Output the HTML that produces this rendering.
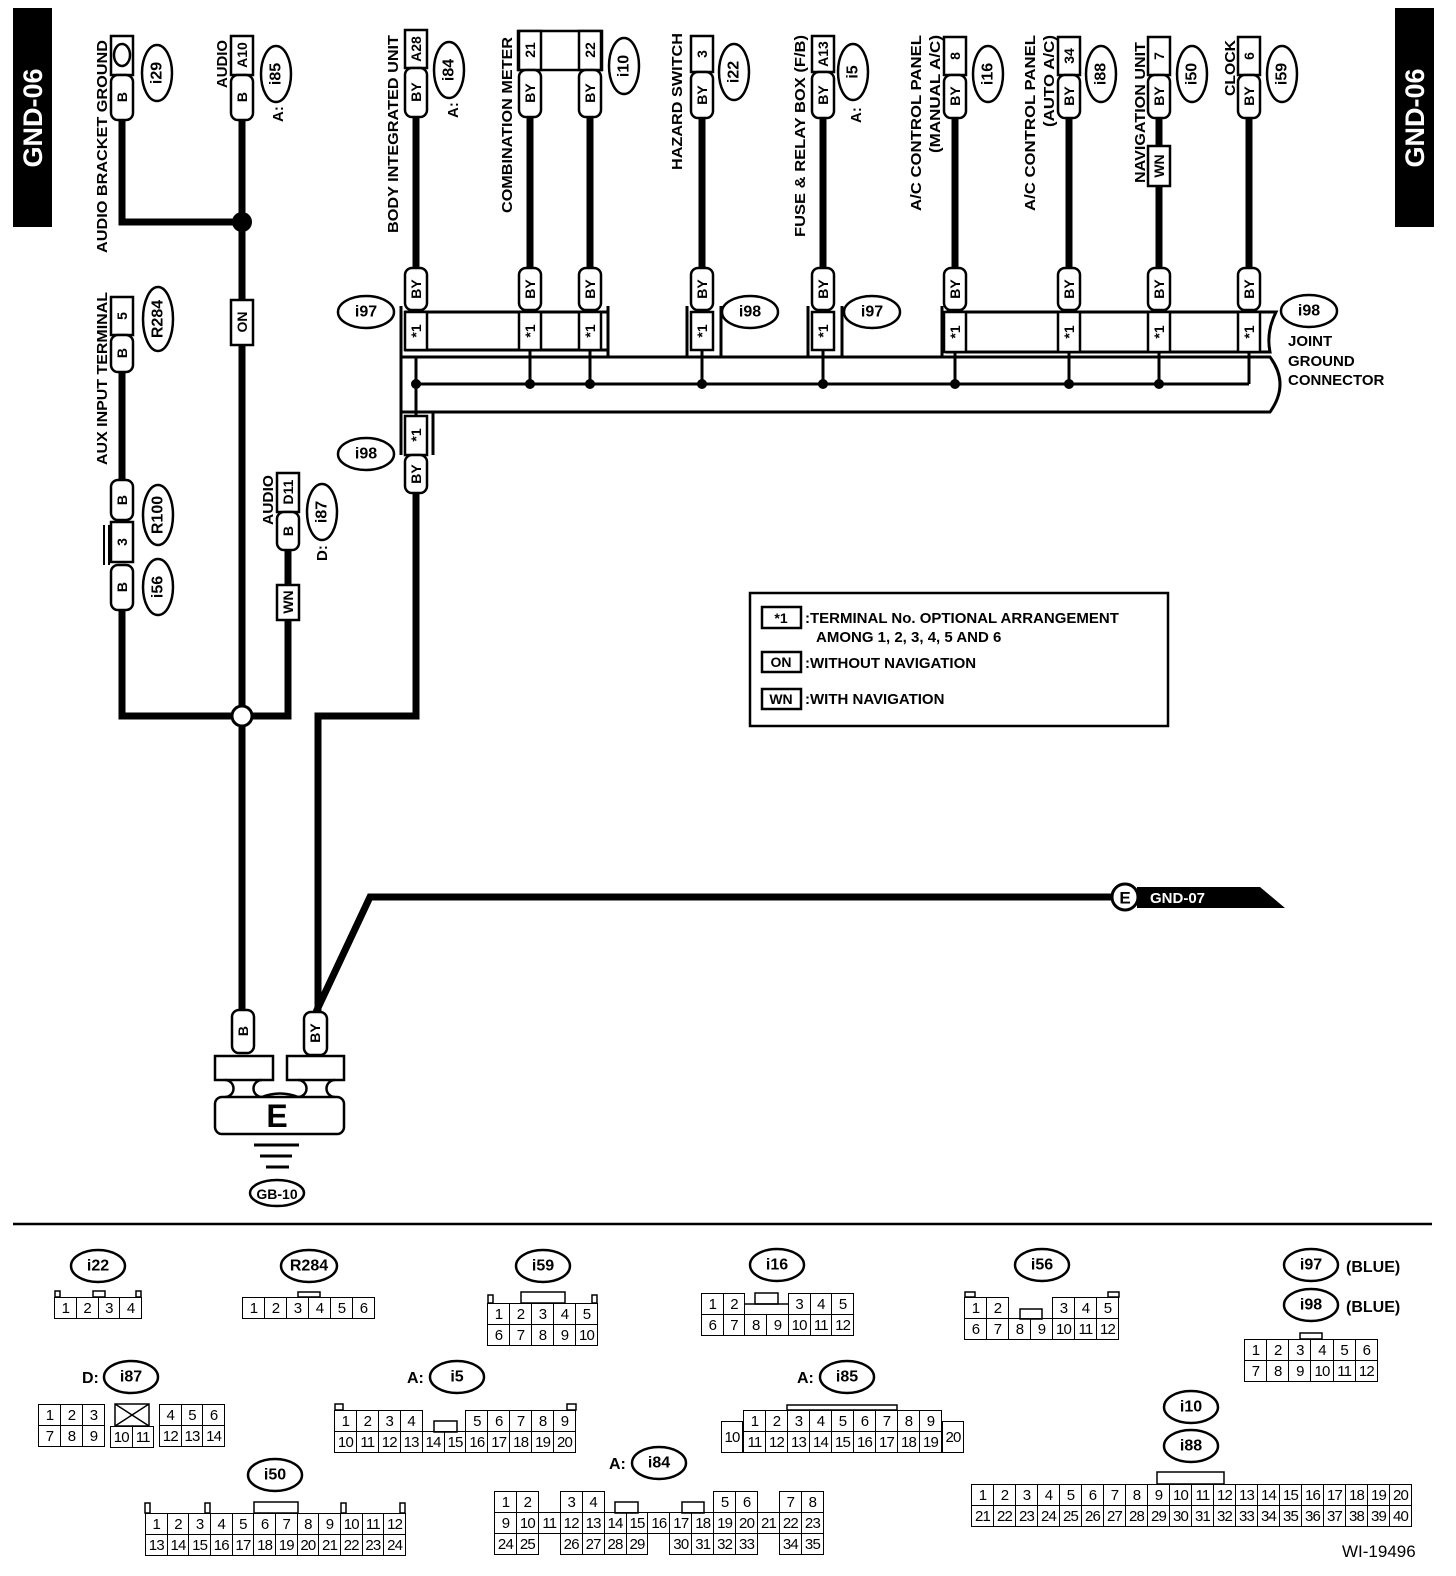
<!DOCTYPE html>
<html><head><meta charset="utf-8">
<style>
body{margin:0;width:1456px;height:1576px;background:#fff;position:relative;overflow:hidden}
svg{position:absolute;left:0;top:0}
.c{position:absolute;border-collapse:collapse;table-layout:fixed;font:15px "Liberation Sans",sans-serif}
.c td{border:1.5px solid #000;padding:0;text-align:center;height:20px;line-height:19px;overflow:hidden;letter-spacing:-0.8px;white-space:nowrap}
.c td.n{border:none}
</style></head><body>
<svg width="1456" height="1576" viewBox="0 0 1456 1576">
<style>
.w{stroke:#000;stroke-width:7;fill:none}
.l{stroke:#000;stroke-width:3;fill:none}
.p{fill:#fff;stroke:#000;stroke-width:2.5}
.t{font:bold 14px "Liberation Sans",sans-serif;text-anchor:middle;dominant-baseline:central}
.lb{font:bold 15px "Liberation Sans",sans-serif}
.o{fill:#fff;stroke:#000;stroke-width:2.5}
.ot{font:bold 16px "Liberation Sans",sans-serif;text-anchor:middle;dominant-baseline:central}
.tb{fill:#fff;stroke:#000;stroke-width:1.5}
</style>
<!-- GND-06 -->
<rect x="13" y="8" width="39" height="219" fill="#000"/>
<text transform="translate(33,118) rotate(-90)" fill="#fff" style="font:bold 27px 'Liberation Sans',sans-serif;text-anchor:middle;dominant-baseline:central">GND-06</text>
<rect x="1395" y="8" width="39" height="219" fill="#000"/>
<text transform="translate(1415,118) rotate(-90)" fill="#fff" style="font:bold 27px 'Liberation Sans',sans-serif;text-anchor:middle;dominant-baseline:central">GND-06</text>

<!-- wires -->
<path class="w" d="M122 118V222H242"/>
<path class="w" d="M242 118V1012"/>
<path class="w" d="M122 370V482"/>
<path class="w" d="M122 608V716H288V618"/>
<path class="w" d="M288 548V587"/>
<path class="w" d="M416 116V270"/>
<path class="w" d="M530 116V270M590 116V270M702 116V270M823 116V270M955 116V270M1069 116V270M1159 116V270M1249 116V270"/>
<path class="w" d="M416 490V716H318V1014"/>
<path class="w" d="M316 1012L370 897H1115"/>
<circle cx="242" cy="222" r="10" fill="#000"/>
<circle cx="242" cy="716" r="10" fill="#fff" stroke="#000" stroke-width="3"/>

<!-- top connectors -->
<rect class="p" x="111" y="36" width="22" height="39"/><ellipse cx="122" cy="55" rx="8" ry="11" fill="#fff" stroke="#000" stroke-width="2.5"/>
<rect class="p" x="111" y="75" width="22" height="45" rx="7"/><text class="t" transform="translate(122,97) rotate(-90)">B</text>
<rect class="p" x="231" y="36" width="22" height="39"/><text class="t" transform="translate(242,55) rotate(-90)">A10</text>
<rect class="p" x="231" y="75" width="22" height="45" rx="7"/><text class="t" transform="translate(242,97) rotate(-90)">B</text>
<rect class="p" x="405" y="30" width="22" height="38"/><text class="t" transform="translate(416,49) rotate(-90)">A28</text>
<rect class="p" x="405" y="68" width="22" height="49" rx="7"/><text class="t" transform="translate(416,92) rotate(-90)">BY</text>
<rect x="518" y="31" width="84" height="39" fill="none" stroke="#000" stroke-width="2.5"/>
<rect class="p" x="519" y="31" width="22" height="39"/><text class="t" transform="translate(530,50) rotate(-90)">21</text>
<rect class="p" x="579" y="31" width="22" height="39"/><text class="t" transform="translate(590,50) rotate(-90)">22</text>
<rect class="p" x="519" y="70" width="22" height="47" rx="7"/><text class="t" transform="translate(530,93) rotate(-90)">BY</text>
<rect class="p" x="579" y="70" width="22" height="47" rx="7"/><text class="t" transform="translate(590,93) rotate(-90)">BY</text>
<rect class="p" x="691" y="36" width="22" height="36"/><text class="t" transform="translate(702,54) rotate(-90)">3</text>
<rect class="p" x="691" y="72" width="22" height="46" rx="7"/><text class="t" transform="translate(702,95) rotate(-90)">BY</text>
<rect class="p" x="812" y="36" width="22" height="36"/><text class="t" transform="translate(823,54) rotate(-90)">A13</text>
<rect class="p" x="812" y="72" width="22" height="46" rx="7"/><text class="t" transform="translate(823,95) rotate(-90)">BY</text>
<rect class="p" x="944" y="37" width="22" height="38"/><text class="t" transform="translate(955,56) rotate(-90)">8</text>
<rect class="p" x="944" y="75" width="22" height="43" rx="7"/><text class="t" transform="translate(955,96) rotate(-90)">BY</text>
<rect class="p" x="1058" y="37" width="22" height="38"/><text class="t" transform="translate(1069,56) rotate(-90)">34</text>
<rect class="p" x="1058" y="75" width="22" height="43" rx="7"/><text class="t" transform="translate(1069,96) rotate(-90)">BY</text>
<rect class="p" x="1148" y="37" width="22" height="38"/><text class="t" transform="translate(1159,56) rotate(-90)">7</text>
<rect class="p" x="1148" y="75" width="22" height="43" rx="7"/><text class="t" transform="translate(1159,96) rotate(-90)">BY</text>
<rect class="p" x="1148" y="146" width="22" height="40"/><text class="t" transform="translate(1159,166) rotate(-90)">WN</text>
<rect class="p" x="1238" y="37" width="22" height="38"/><text class="t" transform="translate(1249,56) rotate(-90)">6</text>
<rect class="p" x="1238" y="75" width="22" height="43" rx="7"/><text class="t" transform="translate(1249,96) rotate(-90)">BY</text>

<!-- top labels -->
<text class="lb" transform="translate(107,253) rotate(-90)" textLength="213" lengthAdjust="spacingAndGlyphs">AUDIO BRACKET GROUND</text>
<text class="lb" transform="translate(227,88) rotate(-90)" textLength="48" lengthAdjust="spacingAndGlyphs">AUDIO</text>
<text class="lb" transform="translate(283,122) rotate(-90)">A:</text>
<text class="lb" transform="translate(398,233) rotate(-90)" textLength="198" lengthAdjust="spacingAndGlyphs">BODY INTEGRATED UNIT</text>
<text class="lb" transform="translate(458,118) rotate(-90)">A:</text>
<text class="lb" transform="translate(512,213) rotate(-90)" textLength="176" lengthAdjust="spacingAndGlyphs">COMBINATION METER</text>
<text class="lb" transform="translate(682,170) rotate(-90)" textLength="137" lengthAdjust="spacingAndGlyphs">HAZARD SWITCH</text>
<text class="lb" transform="translate(805,237) rotate(-90)" textLength="202" lengthAdjust="spacingAndGlyphs">FUSE &amp; RELAY BOX (F/B)</text>
<text class="lb" transform="translate(861,123) rotate(-90)">A:</text>
<text class="lb" transform="translate(921,211) rotate(-90)" textLength="176" lengthAdjust="spacingAndGlyphs">A/C CONTROL PANEL</text>
<text class="lb" transform="translate(940,153) rotate(-90)" textLength="118" lengthAdjust="spacingAndGlyphs">(MANUAL A/C)</text>
<text class="lb" transform="translate(1035,211) rotate(-90)" textLength="176" lengthAdjust="spacingAndGlyphs">A/C CONTROL PANEL</text>
<text class="lb" transform="translate(1054,127) rotate(-90)" textLength="92" lengthAdjust="spacingAndGlyphs">(AUTO A/C)</text>
<text class="lb" transform="translate(1145,183) rotate(-90)" textLength="141" lengthAdjust="spacingAndGlyphs">NAVIGATION UNIT</text>
<text class="lb" transform="translate(1235,96) rotate(-90)" textLength="56" lengthAdjust="spacingAndGlyphs">CLOCK</text>
<text class="lb" transform="translate(107,465) rotate(-90)" textLength="173" lengthAdjust="spacingAndGlyphs">AUX INPUT TERMINAL</text>
<text class="lb" transform="translate(273,525) rotate(-90)" textLength="50" lengthAdjust="spacingAndGlyphs">AUDIO</text>
<text class="lb" transform="translate(327,561) rotate(-90)">D:</text>

<!-- top ovals (rotated) -->
<g transform="translate(157,73) rotate(-90)"><ellipse class="o" rx="28" ry="15"/><text class="ot">i29</text></g>
<g transform="translate(276,74) rotate(-90)"><ellipse class="o" rx="28" ry="15"/><text class="ot">i85</text></g>
<g transform="translate(449,70) rotate(-90)"><ellipse class="o" rx="28" ry="15"/><text class="ot">i84</text></g>
<g transform="translate(624,66) rotate(-90)"><ellipse class="o" rx="28" ry="15"/><text class="ot">i10</text></g>
<g transform="translate(734,72) rotate(-90)"><ellipse class="o" rx="28" ry="15"/><text class="ot">i22</text></g>
<g transform="translate(853,72) rotate(-90)"><ellipse class="o" rx="28" ry="15"/><text class="ot">i5</text></g>
<g transform="translate(988,74) rotate(-90)"><ellipse class="o" rx="28" ry="15"/><text class="ot">i16</text></g>
<g transform="translate(1101,74) rotate(-90)"><ellipse class="o" rx="28" ry="15"/><text class="ot">i88</text></g>
<g transform="translate(1192,74) rotate(-90)"><ellipse class="o" rx="28" ry="15"/><text class="ot">i50</text></g>
<g transform="translate(1282,74) rotate(-90)"><ellipse class="o" rx="28" ry="15"/><text class="ot">i59</text></g>
<g transform="translate(158,319) rotate(-90)"><ellipse class="o" rx="32" ry="15"/><text class="ot">R284</text></g>
<g transform="translate(158,515) rotate(-90)"><ellipse class="o" rx="30" ry="15"/><text class="ot">R100</text></g>
<g transform="translate(158,587) rotate(-90)"><ellipse class="o" rx="28" ry="15"/><text class="ot">i56</text></g>
<g transform="translate(322,512) rotate(-90)"><ellipse class="o" rx="28" ry="15"/><text class="ot">i87</text></g>

<!-- left side connectors -->
<rect class="p" x="231" y="300" width="22" height="45"/><text class="t" transform="translate(242,322) rotate(-90)">ON</text>
<rect class="p" x="111" y="297" width="22" height="38"/><text class="t" transform="translate(122,316) rotate(-90)">5</text>
<rect class="p" x="111" y="335" width="22" height="37" rx="7"/><text class="t" transform="translate(122,353) rotate(-90)">B</text>
<rect class="p" x="111" y="480" width="22" height="40" rx="7"/><text class="t" transform="translate(122,500) rotate(-90)">B</text>
<path class="l" d="M104 525V565M109 525V565" style="stroke-width:2"/>
<rect class="p" x="111" y="522" width="22" height="40"/><text class="t" transform="translate(122,542) rotate(-90)">3</text>
<rect class="p" x="111" y="565" width="22" height="45" rx="7"/><text class="t" transform="translate(122,587) rotate(-90)">B</text>
<rect class="p" x="277" y="473" width="22" height="39"/><text class="t" transform="translate(288,492) rotate(-90)">D11</text>
<rect class="p" x="277" y="512" width="22" height="38" rx="7"/><text class="t" transform="translate(288,531) rotate(-90)">B</text>
<rect class="p" x="277" y="585" width="22" height="35"/><text class="t" transform="translate(288,602) rotate(-90)">WN</text>

<!-- joint connector -->
<path class="l" d="M401 306V455"/>
<rect x="406" y="312" width="202" height="38" fill="none" stroke="#000" stroke-width="3"/>
<path class="l" d="M608 306V357M687 306V357M721 306V357M808 306V357M842 306V357M942 306V357"/>
<path class="l" d="M947 312H1276Q1266 332 1270 352H947Z"/>
<path class="l" d="M401 357H1270Q1290 384 1270 412H401"/>
<path class="l" d="M416 357V416M530 350V384M590 350V384M702 350V384M823 350V384M955 352V384M1069 352V384M1159 352V384M1249 352V384M416 384H1249"/>
<g fill="#000"><circle cx="416" cy="384" r="5"/><circle cx="530" cy="384" r="5"/><circle cx="590" cy="384" r="5"/><circle cx="702" cy="384" r="5"/><circle cx="823" cy="384" r="5"/><circle cx="955" cy="384" r="5"/><circle cx="1069" cy="384" r="5"/><circle cx="1159" cy="384" r="5"/></g>
<path class="l" d="M433 412V455"/>
<g>
<rect class="p" x="405" y="268" width="22" height="42" rx="7"/><text class="t" transform="translate(416,289) rotate(-90)">BY</text>
<rect class="p" x="519" y="268" width="22" height="42" rx="7"/><text class="t" transform="translate(530,289) rotate(-90)">BY</text>
<rect class="p" x="579" y="268" width="22" height="42" rx="7"/><text class="t" transform="translate(590,289) rotate(-90)">BY</text>
<rect class="p" x="691" y="268" width="22" height="42" rx="7"/><text class="t" transform="translate(702,289) rotate(-90)">BY</text>
<rect class="p" x="812" y="268" width="22" height="42" rx="7"/><text class="t" transform="translate(823,289) rotate(-90)">BY</text>
<rect class="p" x="944" y="268" width="22" height="42" rx="7"/><text class="t" transform="translate(955,289) rotate(-90)">BY</text>
<rect class="p" x="1058" y="268" width="22" height="42" rx="7"/><text class="t" transform="translate(1069,289) rotate(-90)">BY</text>
<rect class="p" x="1148" y="268" width="22" height="42" rx="7"/><text class="t" transform="translate(1159,289) rotate(-90)">BY</text>
<rect class="p" x="1238" y="268" width="22" height="42" rx="7"/><text class="t" transform="translate(1249,289) rotate(-90)">BY</text>
</g>
<g>
<rect class="p" x="405" y="312" width="22" height="38"/><text class="t" transform="translate(416,331) rotate(-90)">*1</text>
<rect class="p" x="519" y="312" width="22" height="38"/><text class="t" transform="translate(530,331) rotate(-90)">*1</text>
<rect class="p" x="579" y="312" width="22" height="38"/><text class="t" transform="translate(590,331) rotate(-90)">*1</text>
<rect class="p" x="691" y="312" width="22" height="38"/><text class="t" transform="translate(702,331) rotate(-90)">*1</text>
<rect class="p" x="812" y="312" width="22" height="38"/><text class="t" transform="translate(823,331) rotate(-90)">*1</text>
<rect class="p" x="944" y="312" width="22" height="40"/><text class="t" transform="translate(955,332) rotate(-90)">*1</text>
<rect class="p" x="1058" y="312" width="22" height="40"/><text class="t" transform="translate(1069,332) rotate(-90)">*1</text>
<rect class="p" x="1148" y="312" width="22" height="40"/><text class="t" transform="translate(1159,332) rotate(-90)">*1</text>
<rect class="p" x="1238" y="312" width="22" height="40"/><text class="t" transform="translate(1249,332) rotate(-90)">*1</text>
<rect class="p" x="405" y="416" width="22" height="39"/><text class="t" transform="translate(416,435) rotate(-90)">*1</text>
<rect class="p" x="405" y="455" width="22" height="38" rx="7"/><text class="t" transform="translate(416,474) rotate(-90)">BY</text>
</g>
<g><ellipse class="o" cx="366" cy="312" rx="28" ry="16"/><text class="ot" x="366" y="312">i97</text>
<ellipse class="o" cx="750" cy="312" rx="28" ry="16"/><text class="ot" x="750" y="312">i98</text>
<ellipse class="o" cx="872" cy="312" rx="28" ry="16"/><text class="ot" x="872" y="312">i97</text>
<ellipse class="o" cx="1309" cy="311" rx="28" ry="16"/><text class="ot" x="1309" y="311">i98</text>
<ellipse class="o" cx="366" cy="454" rx="28" ry="16"/><text class="ot" x="366" y="454">i98</text></g>
<text class="lb" x="1288" y="346">JOINT</text>
<text class="lb" x="1288" y="366">GROUND</text>
<text class="lb" x="1288" y="385">CONNECTOR</text>

<!-- legend -->
<rect x="750" y="593" width="418" height="133" fill="none" stroke="#000" stroke-width="2.5"/>
<rect class="p" x="762" y="607" width="39" height="21"/><text class="t" x="781" y="618">*1</text>
<text class="lb" x="805" y="623">:TERMINAL No. OPTIONAL ARRANGEMENT</text>
<text class="lb" x="816" y="642">AMONG 1, 2, 3, 4, 5 AND 6</text>
<rect class="p" x="762" y="652" width="39" height="20"/><text class="t" x="781" y="662">ON</text>
<text class="lb" x="805" y="668">:WITHOUT NAVIGATION</text>
<rect class="p" x="762" y="689" width="39" height="20"/><text class="t" x="781" y="699">WN</text>
<text class="lb" x="805" y="704">:WITH NAVIGATION</text>

<!-- GND-07 -->
<polygon points="1137,887 1260,887 1285,908 1137,908" fill="#000"/>
<circle cx="1125" cy="897" r="13" fill="#fff" stroke="#000" stroke-width="3"/>
<text x="1125" y="898" style="font:bold 17px 'Liberation Sans',sans-serif;text-anchor:middle;dominant-baseline:central">E</text>
<text x="1150" y="903" fill="#fff" style="font:bold 15px 'Liberation Sans',sans-serif">GND-07</text>

<!-- ground -->
<rect class="p" x="232" y="1010" width="22" height="43" rx="7"/><text class="t" transform="translate(243,1031) rotate(-90)">B</text>
<rect class="p" x="304" y="1012" width="23" height="43" rx="7"/><text class="t" transform="translate(315,1033) rotate(-90)">BY</text>
<rect class="p" x="215" y="1056" width="58" height="24"/>
<rect class="p" x="287" y="1056" width="57" height="24"/>
<path d="M225 1080 A6 6 0 0 1 225 1097 M262 1080 A6 6 0 0 0 262 1097 M298 1080 A6 6 0 0 1 298 1097 M335 1080 A6 6 0 0 0 335 1097" fill="none" stroke="#000" stroke-width="2.5"/>
<path d="M262 1097 Q280 1090 298 1097" fill="none" stroke="#000" stroke-width="2.5"/>
<rect class="p" x="215" y="1097" width="129" height="37" rx="7"/>
<text x="277" y="1116" style="font:bold 32px 'Liberation Sans',sans-serif;text-anchor:middle;dominant-baseline:central">E</text>
<path d="M254 1145H299M260 1156H292M266 1167H289" stroke="#000" stroke-width="3"/>
<ellipse class="o" cx="277" cy="1193" rx="27" ry="13"/><text x="277" y="1194" style="font:bold 14px 'Liberation Sans',sans-serif;text-anchor:middle;dominant-baseline:central">GB-10</text>

<!-- separator -->
<line x1="13" y1="1224" x2="1432" y2="1224" stroke="#000" stroke-width="2.5"/>

<!-- bottom ovals -->
<g>
<ellipse class="o" cx="98" cy="1266" rx="27" ry="16"/><text class="ot" x="98" y="1266">i22</text>
<ellipse class="o" cx="309" cy="1266" rx="28" ry="16"/><text class="ot" x="309" y="1266">R284</text>
<ellipse class="o" cx="543" cy="1266" rx="27" ry="16"/><text class="ot" x="543" y="1266">i59</text>
<ellipse class="o" cx="777" cy="1265" rx="27" ry="16"/><text class="ot" x="777" y="1265">i16</text>
<ellipse class="o" cx="1042" cy="1265" rx="27" ry="16"/><text class="ot" x="1042" y="1265">i56</text>
<ellipse class="o" cx="1311" cy="1265" rx="27" ry="16"/><text class="ot" x="1311" y="1265">i97</text>
<ellipse class="o" cx="1311" cy="1305" rx="27" ry="16"/><text class="ot" x="1311" y="1305">i98</text>
<text class="lb" x="1346" y="1272" style="font-size:16px">(BLUE)</text>
<text class="lb" x="1346" y="1312" style="font-size:16px">(BLUE)</text>
<text class="lb" x="82" y="1383" style="font-size:16px">D:</text>
<ellipse class="o" cx="131" cy="1377" rx="27" ry="16"/><text class="ot" x="131" y="1377">i87</text>
<text class="lb" x="407" y="1383" style="font-size:16px">A:</text>
<ellipse class="o" cx="457" cy="1377" rx="27" ry="16"/><text class="ot" x="457" y="1377">i5</text>
<text class="lb" x="797" y="1383" style="font-size:16px">A:</text>
<ellipse class="o" cx="847" cy="1377" rx="27" ry="16"/><text class="ot" x="847" y="1377">i85</text>
<ellipse class="o" cx="275" cy="1475" rx="27" ry="16"/><text class="ot" x="275" y="1475">i50</text>
<text class="lb" x="609" y="1469" style="font-size:16px">A:</text>
<ellipse class="o" cx="659" cy="1463" rx="27" ry="16"/><text class="ot" x="659" y="1463">i84</text>
<ellipse class="o" cx="1191" cy="1407" rx="27" ry="16"/><text class="ot" x="1191" y="1407">i10</text>
<ellipse class="o" cx="1191" cy="1446" rx="27" ry="16"/><text class="ot" x="1191" y="1446">i88</text>
<text x="1342" y="1557" style="font:17px 'Liberation Sans',sans-serif">WI-19496</text>
</g>
<!-- tabs -->
<g>
<rect class="tb" x="55" y="1291" width="5" height="6"/><rect class="tb" x="93" y="1291" width="12" height="6"/><rect class="tb" x="136" y="1291" width="5" height="6"/>
<rect class="tb" x="298" y="1292" width="22" height="5"/>
<rect class="tb" x="488" y="1295" width="5" height="8"/><rect class="tb" x="521" y="1292" width="44" height="11"/><rect class="tb" x="592" y="1295" width="5" height="8"/>
<rect class="tb" x="755" y="1293" width="23" height="11"/><line x1="745" y1="1304" x2="789" y2="1304" stroke="#000" stroke-width="1.5"/>
<rect class="tb" x="965" y="1292" width="10" height="5"/><rect class="tb" x="1108" y="1292" width="11" height="5"/><rect class="tb" x="1020" y="1309" width="22" height="10"/>
<rect class="tb" x="1300" y="1333" width="22" height="6"/>
<rect class="tb" x="335" y="1404" width="8" height="6"/><rect class="tb" x="567" y="1404" width="9" height="6"/><rect class="tb" x="434" y="1421" width="23" height="11"/>
<rect class="tb" x="145" y="1503" width="5" height="10"/><rect class="tb" x="205" y="1503" width="5" height="10"/><rect class="tb" x="254" y="1502" width="44" height="11"/><rect class="tb" x="341" y="1503" width="5" height="10"/><rect class="tb" x="400" y="1503" width="5" height="10"/>
<rect class="tb" x="615" y="1502" width="23" height="11"/><rect class="tb" x="682" y="1502" width="22" height="11"/>
<rect class="tb" x="787" y="1405" width="110" height="5"/>
<rect class="tb" x="1157" y="1472" width="67" height="12"/>
<rect class="tb" x="115" y="1404" width="34" height="22"/><path d="M115 1404L149 1426M149 1404L115 1426" stroke="#000" stroke-width="1.5"/>
</g>
</svg>

<table class="c" style="left:54px;top:1297px;width:88px"><tr><td>1</td><td>2</td><td>3</td><td>4</td></tr></table>
<table class="c" style="left:242px;top:1297px;width:133px"><tr><td>1</td><td>2</td><td>3</td><td>4</td><td>5</td><td>6</td></tr></table>
<table class="c" style="left:487px;top:1303px;width:111px"><tr><td>1</td><td>2</td><td>3</td><td>4</td><td>5</td></tr><tr><td>6</td><td>7</td><td>8</td><td>9</td><td>10</td></tr></table>
<table class="c" style="left:701px;top:1293px;width:153px"><tr><td>1</td><td>2</td><td class="n"></td><td class="n"></td><td>3</td><td>4</td><td>5</td></tr><tr><td>6</td><td>7</td><td>8</td><td>9</td><td>10</td><td>11</td><td>12</td></tr></table>
<table class="c" style="left:964px;top:1297px;width:155px"><tr><td>1</td><td>2</td><td class="n"></td><td class="n"></td><td>3</td><td>4</td><td>5</td></tr><tr><td>6</td><td>7</td><td>8</td><td>9</td><td>10</td><td>11</td><td>12</td></tr></table>
<table class="c" style="left:1244px;top:1339px;width:134px"><tr><td>1</td><td>2</td><td>3</td><td>4</td><td>5</td><td>6</td></tr><tr><td>7</td><td>8</td><td>9</td><td>10</td><td>11</td><td>12</td></tr></table>
<table class="c" style="left:38px;top:1404px;width:67px"><tr><td>1</td><td>2</td><td>3</td></tr><tr><td>7</td><td>8</td><td>9</td></tr></table>
<table class="c" style="left:110px;top:1426px;width:44px"><tr><td>10</td><td>11</td></tr></table>
<table class="c" style="left:159px;top:1404px;width:66px"><tr><td>4</td><td>5</td><td>6</td></tr><tr><td>12</td><td>13</td><td>14</td></tr></table>
<table class="c" style="left:334px;top:1410px;width:242px"><tr><td>1</td><td>2</td><td>3</td><td>4</td><td class="n"></td><td class="n"></td><td>5</td><td>6</td><td>7</td><td>8</td><td>9</td></tr><tr><td>10</td><td>11</td><td>12</td><td>13</td><td>14</td><td>15</td><td>16</td><td>17</td><td>18</td><td>19</td><td>20</td></tr></table>
<table class="c" style="left:145px;top:1513px;width:261px"><tr><td>1</td><td>2</td><td>3</td><td>4</td><td>5</td><td>6</td><td>7</td><td>8</td><td>9</td><td>10</td><td>11</td><td>12</td></tr><tr><td>13</td><td>14</td><td>15</td><td>16</td><td>17</td><td>18</td><td>19</td><td>20</td><td>21</td><td>22</td><td>23</td><td>24</td></tr></table>
<table class="c" style="left:494px;top:1491px;width:330px"><tr><td>1</td><td>2</td><td class="n"></td><td>3</td><td>4</td><td class="n"></td><td class="n"></td><td class="n"></td><td class="n"></td><td class="n"></td><td>5</td><td>6</td><td class="n"></td><td>7</td><td>8</td></tr><tr><td>9</td><td>10</td><td>11</td><td>12</td><td>13</td><td>14</td><td>15</td><td>16</td><td>17</td><td>18</td><td>19</td><td>20</td><td>21</td><td>22</td><td>23</td></tr><tr><td>24</td><td>25</td><td class="n"></td><td>26</td><td>27</td><td>28</td><td>29</td><td class="n"></td><td>30</td><td>31</td><td>32</td><td>33</td><td class="n"></td><td>34</td><td>35</td></tr></table>
<table class="c" style="left:721px;top:1421px;width:22px"><tr><td style="height:30px">10</td></tr></table>
<table class="c" style="left:743px;top:1410px;width:199px"><tr><td>1</td><td>2</td><td>3</td><td>4</td><td>5</td><td>6</td><td>7</td><td>8</td><td>9</td></tr><tr><td>11</td><td>12</td><td>13</td><td>14</td><td>15</td><td>16</td><td>17</td><td>18</td><td>19</td></tr></table>
<table class="c" style="left:942px;top:1421px;width:22px"><tr><td style="height:30px">20</td></tr></table>
<table class="c" style="left:971px;top:1484px;width:441px"><tr><td>1</td><td>2</td><td>3</td><td>4</td><td>5</td><td>6</td><td>7</td><td>8</td><td>9</td><td>10</td><td>11</td><td>12</td><td>13</td><td>14</td><td>15</td><td>16</td><td>17</td><td>18</td><td>19</td><td>20</td></tr><tr><td>21</td><td>22</td><td>23</td><td>24</td><td>25</td><td>26</td><td>27</td><td>28</td><td>29</td><td>30</td><td>31</td><td>32</td><td>33</td><td>34</td><td>35</td><td>36</td><td>37</td><td>38</td><td>39</td><td>40</td></tr></table>
</body></html>
